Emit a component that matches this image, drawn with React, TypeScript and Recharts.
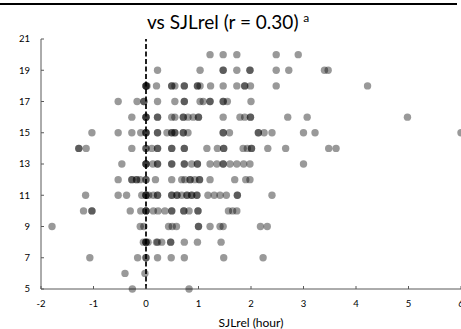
import React from 'react';
import { ScatterChart, Scatter, XAxis, YAxis, ReferenceLine } from 'recharts';

const xTicks = [-2, -1, 0, 1, 2, 3, 4, 5, 6];
const yTicks = [5, 7, 9, 11, 13, 15, 17, 19, 21];

// SJLrel (hour) values of the points in each row of the outcome axis
const sjl20 = [1.22, 1.47, 1.73, 2.48, 2.9];
const sjl19 = [0.22, 1.03, 1.47, 1.47, 1.73, 1.98, 1.98, 2.48, 2.72, 3.4, 3.47];
const sjl18 = [0, 0, 0, 0.02, 0.2, 0.49, 0.49, 0.55, 0.73, 0.73, 0.98, 0.98, 1.03, 1.23, 1.47, 1.73, 1.88, 1.88, 1.99, 2.48, 4.22];
const sjl17 = [-0.53, -0.17, -0.04, -0.04, 0.22, 0.55, 0.73, 0.73, 1.03, 1.09, 1.22, 1.22, 1.47, 1.47, 1.55, 2.0];
const sjl16 = [-0.27, 0, 0, 0, 0.22, 0.22, 0.49, 0.55, 0.71, 0.71, 0.8, 0.9, 1.0, 1.0, 1.47, 1.79, 1.88, 1.99, 1.99, 2.7, 3.07, 4.98];
const sjl15 = [-1.03, -0.53, -0.27, -0.1, 0, 0, 0, 0.22, 0.22, 0.4, 0.49, 0.49, 0.55, 0.55, 0.71, 0.71, 0.8, 1.47, 1.47, 1.59, 2.14, 2.14, 2.25, 2.4, 3.0, 3.22, 6.0];
const sjl14 = [-1.28, -1.28, -1.14, -0.27, 0, 0, 0.11, 0.22, 0.22, 0.49, 0.49, 0.73, 0.73, 1.16, 1.36, 1.48, 1.48, 1.85, 1.93, 2.01, 2.01, 2.32, 2.66, 3.48, 3.62];
const sjl13 = [-0.46, 0, 0, 0, 0.13, 0.22, 0.22, 0.49, 0.49, 0.73, 0.73, 0.87, 0.98, 0.98, 1.22, 1.35, 1.47, 1.47, 1.6, 1.73, 1.86, 1.98, 3.0];
const sjl12 = [-0.53, -0.27, -0.27, -0.18, -0.18, -0.11, 0, 0, 0.18, 0.49, 0.68, 0.74, 0.84, 0.84, 0.93, 1.02, 1.02, 1.22, 1.69, 1.9, 1.98];
const sjl11 = [-1.15, -0.53, -0.37, -0.08, 0, 0, 0, 0.05, 0.14, 0.22, 0.22, 0.49, 0.49, 0.59, 0.59, 0.68, 0.78, 0.78, 0.87, 0.87, 0.97, 0.97, 1.18, 1.3, 1.41, 1.53, 1.74, 1.74, 2.4];
const sjl10 = [-1.19, -1.03, -1.03, -0.3, -0.1, 0, 0, 0, 0.14, 0.23, 0.36, 0.49, 0.49, 0.72, 0.72, 0.82, 0.99, 0.99, 1.57, 1.65, 1.73];
const sjl9 = [-1.79, -0.11, -0.04, 0.43, 0.5, 0.58, 1.0, 1.0, 1.22, 1.41, 1.47, 2.18, 2.31];
const sjl8 = [-0.05, 0, 0, 0, 0.04, 0.2, 0.22, 0.3, 0.47, 0.47, 0.73, 0.98, 1.43];
const sjl7 = [-1.07, -0.16, 0, 0, 0.22, 0.48, 0.73, 1.48, 2.23];
const sjl6 = [-0.4, -0.02];
const sjl5 = [-0.26, 0.82];

const rows: Array<[number, number[]]> = [
  [20, sjl20], [19, sjl19], [18, sjl18], [17, sjl17], [16, sjl16], [15, sjl15],
  [14, sjl14], [13, sjl13], [12, sjl12], [11, sjl11], [10, sjl10], [9, sjl9],
  [8, sjl8], [7, sjl7], [6, sjl6], [5, sjl5],
];

const points = rows.flatMap(([y, xs]) => xs.map((x) => ({ x, y })));

const tickStyle = { fontFamily: 'Lato', fontSize: 9.5, fill: '#000' };

const Dot = (props: any) => (
  <circle cx={props.cx} cy={props.cy} r={3.7} fill="#000" fillOpacity={0.4} />
);

export default function App() {
  return (
    <div style={{ position: 'absolute', left: 0, top: 0, width: 461, height: 329, background: '#fff' }}>
      <div style={{ position: 'absolute', left: 0, top: 3, width: 457, height: 2, background: '#000' }} />
      <div
        style={{
          position: 'absolute',
          left: 147,
          top: 9,
          fontFamily: 'Lato',
          fontSize: 19,
          color: '#000',
          whiteSpace: 'nowrap',
          lineHeight: '26px',
        }}
      >
        vs SJLrel (r = 0.30) <sup style={{ fontSize: 12, verticalAlign: 'top', lineHeight: '18px' }}>a</sup>
      </div>
      <ScatterChart width={461} height={329} margin={{ top: 39, right: 0, bottom: 0, left: 0 }}>
        <XAxis
          type="number"
          dataKey="x"
          domain={[-2, 6]}
          ticks={xTicks}
          interval={0}
          height={40}
          allowDataOverflow
          tick={tickStyle}
          tickSize={-3}
          tickMargin={14.5}
          axisLine={{ stroke: '#595959' }}
          tickLine={{ stroke: '#595959' }}
          label={{
            value: 'SJLrel (hour)',
            position: 'insideBottom',
            offset: 2,
            style: { fontFamily: 'Lato', fontSize: 12, fill: '#000' },
          }}
        />
        <YAxis
          type="number"
          dataKey="y"
          domain={[5, 21]}
          ticks={yTicks}
          interval={0}
          width={41}
          tick={tickStyle}
          tickSize={-3}
          tickMargin={14}
          axisLine={{ stroke: '#595959' }}
          tickLine={{ stroke: '#595959' }}
        />
        <Scatter data={points} shape={Dot} isAnimationActive={false} />
        <ReferenceLine x={0} stroke="#222" strokeWidth={2} strokeDasharray="5 2.5" />
      </ScatterChart>
    </div>
  );
}
